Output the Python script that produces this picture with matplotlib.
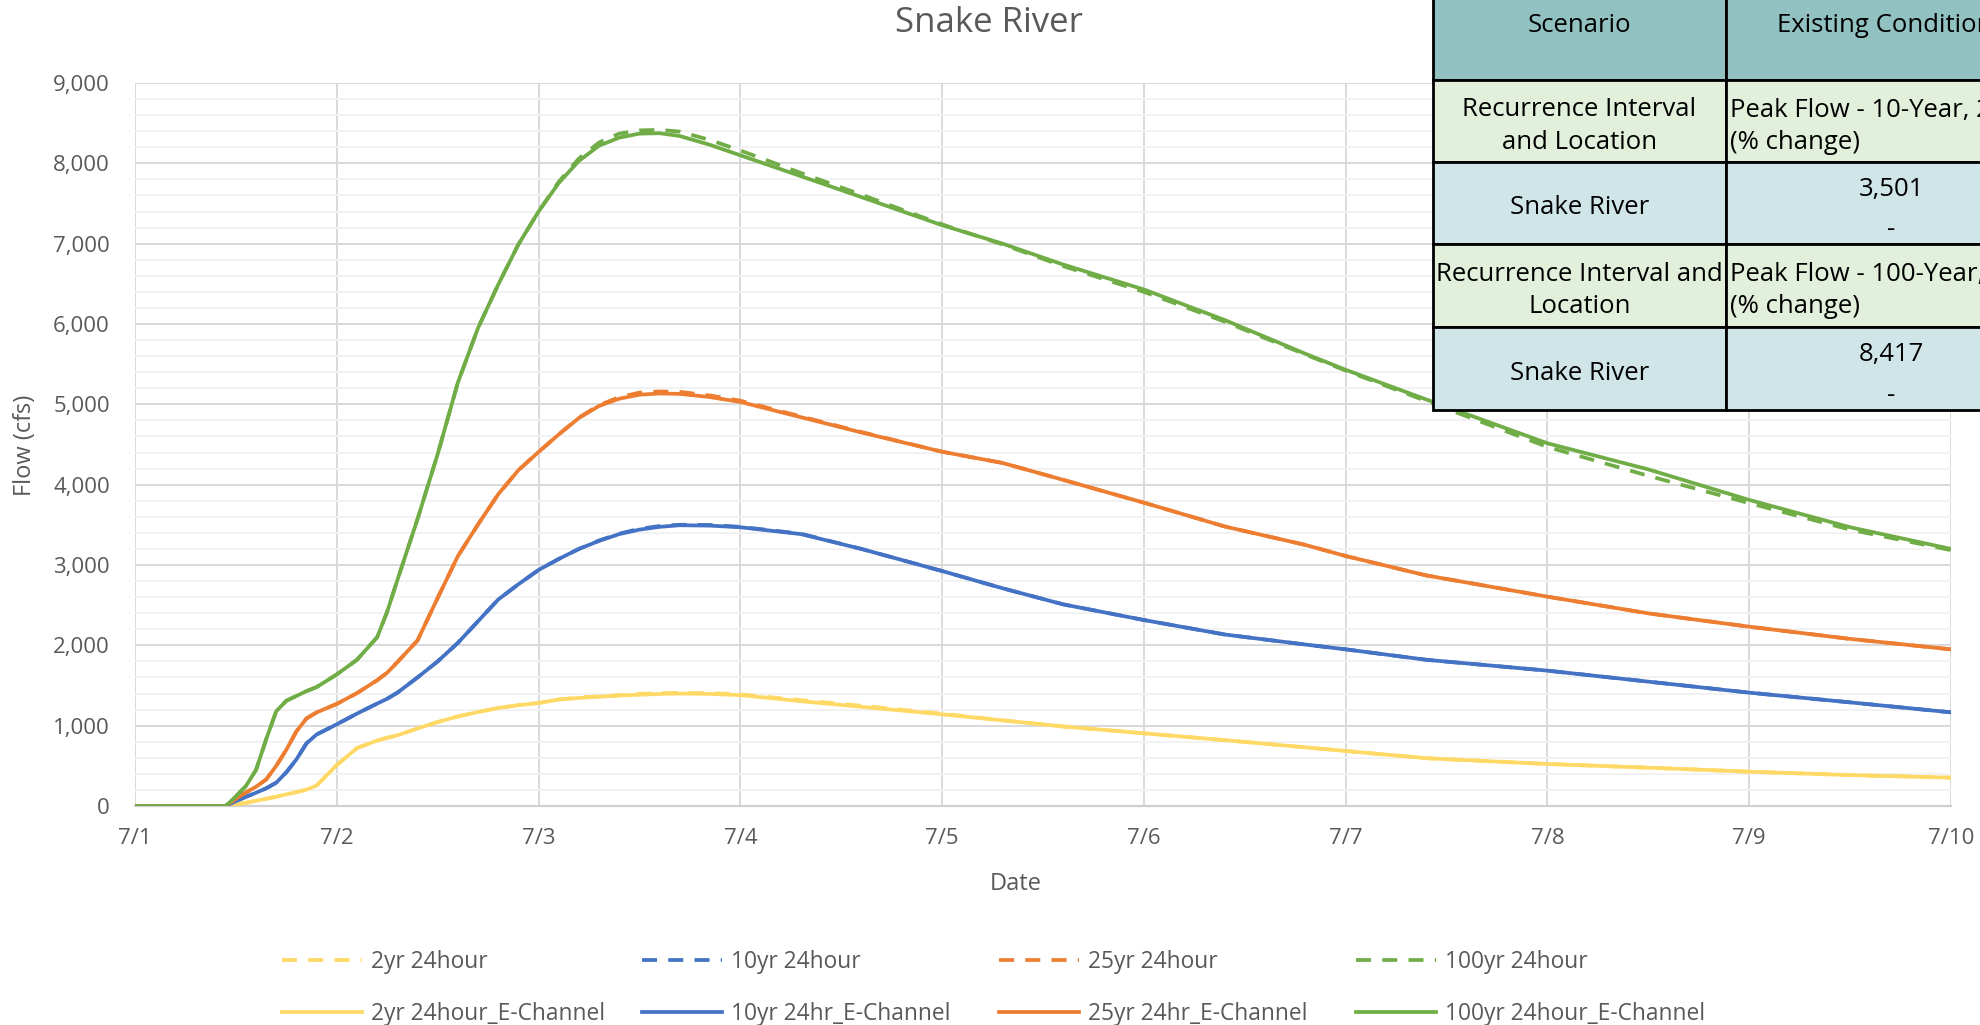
import matplotlib
matplotlib.use("Agg")
import matplotlib.pyplot as plt
from matplotlib.patches import Rectangle
from matplotlib.ticker import FuncFormatter, MultipleLocator

plt.rcParams['font.family'] = ['Open Sans', 'DejaVu Sans']

# ---- data (days after 7/1, flow in cfs) ----
days = [0, 0.45, 0.5, 0.55, 0.6, 0.65, 0.7, 0.75, 0.8, 0.85,
        0.9, 1.0, 1.1, 1.2, 1.25, 1.3, 1.4, 1.5, 1.6, 1.7,
        1.8, 1.9, 2.0, 2.1, 2.2, 2.3, 2.4, 2.5, 2.6, 2.7,
        2.85, 3.0, 3.3, 3.6, 4.0, 4.3, 4.6, 5.0, 5.4, 5.8,
        6.0, 6.4, 7.0, 7.5, 8.0, 8.5, 9.0]

yr2_24hour = [0, 0, 20, 40, 65, 90, 115, 145, 172, 205,
              255, 510, 720, 815, 850, 880, 965, 1045, 1115, 1170,
              1220, 1255, 1282, 1325, 1350, 1365, 1380, 1395, 1405, 1410,
              1405, 1390, 1318, 1248, 1150, 1066, 990, 905, 820, 730,
              685, 595, 523, 477, 427, 385, 353]
yr2_echannel = [0, 0, 20, 40, 65, 90, 115, 145, 172, 205,
                255, 510, 720, 815, 850, 880, 965, 1045, 1115, 1170,
                1220, 1255, 1282, 1325, 1345, 1360, 1375, 1385, 1395, 1400,
                1395, 1380, 1305, 1235, 1141, 1066, 990, 905, 820, 730,
                685, 595, 523, 477, 427, 385, 353]

yr10_24hour = [0, 0, 60, 115, 165, 220, 290, 420, 580, 780,
               890, 1017, 1150, 1275, 1335, 1410, 1600, 1800, 2030, 2300,
               2570, 2760, 2938, 3075, 3200, 3305, 3390, 3450, 3485, 3501,
               3498, 3475, 3390, 3200, 2925, 2710, 2510, 2315, 2135, 2010,
               1950, 1820, 1685, 1548, 1411, 1290, 1166]
yr10_echannel = [0, 0, 60, 115, 165, 220, 290, 420, 580, 780,
                 890, 1017, 1150, 1275, 1335, 1410, 1600, 1800, 2030, 2300,
                 2570, 2760, 2938, 3075, 3200, 3300, 3385, 3440, 3475, 3495,
                 3490, 3470, 3385, 3200, 2925, 2710, 2510, 2315, 2135, 2010,
                 1950, 1820, 1685, 1548, 1411, 1290, 1166]

yr25_24hour = [0, 0, 90, 170, 240, 330, 500, 700, 930, 1090,
               1165, 1271, 1405, 1565, 1660, 1790, 2060, 2590, 3110, 3505,
               3880, 4180, 4407, 4625, 4835, 4990, 5090, 5145, 5160, 5155,
               5110, 5045, 4850, 4655, 4410, 4270, 4060, 3776, 3480, 3250,
               3112, 2870, 2606, 2398, 2232, 2080, 1950]
yr25_echannel = [0, 0, 90, 170, 240, 330, 500, 700, 930, 1090,
                 1165, 1271, 1405, 1565, 1660, 1790, 2060, 2590, 3110, 3505,
                 3880, 4180, 4407, 4625, 4830, 4980, 5070, 5120, 5135, 5130,
                 5090, 5030, 4840, 4650, 4410, 4270, 4060, 3776, 3480, 3250,
                 3112, 2870, 2606, 2398, 2232, 2080, 1950]

yr100_24hour = [0, 0, 120, 250, 450, 830, 1180, 1310, 1370, 1430,
                1480, 1638, 1820, 2100, 2420, 2810, 3570, 4380, 5270, 5950,
                6490, 6990, 7400, 7770, 8060, 8260, 8370, 8410, 8417, 8395,
                8290, 8160, 7880, 7610, 7240, 6990, 6720, 6400, 6030, 5620,
                5420, 5040, 4470, 4110, 3770, 3440, 3185]
yr100_echannel = [0, 0, 120, 250, 450, 830, 1180, 1310, 1370, 1430,
                  1480, 1638, 1820, 2100, 2420, 2810, 3570, 4380, 5270, 5950,
                  6490, 6990, 7400, 7755, 8030, 8220, 8320, 8370, 8375, 8340,
                  8230, 8100, 7840, 7580, 7230, 7000, 6740, 6430, 6050, 5630,
                  5430, 5060, 4515, 4190, 3810, 3470, 3200]

day_labels = ['7/1', '7/2', '7/3', '7/4', '7/5', '7/6', '7/7', '7/8', '7/9', '7/10']

dashed_names = ['2yr 24hour', '10yr 24hour', '25yr 24hour', '100yr 24hour']
solid_names = ['2yr 24hour_E-Channel', '10yr 24hr_E-Channel',
               '25yr 24hr_E-Channel', '100yr 24hour_E-Channel']
colors = ['#FFD966', '#4472C4', '#ED7D31', '#70AD47']

# summary table on top of the chart
table_col1 = ['Scenario', 'Recurrence Interval\nand Location', 'Snake River',
              'Recurrence Interval and\nLocation', 'Snake River']
table_col2 = ['Existing Conditions', 'Peak Flow - 10-Year, 24-Hour (cfs)\n(% change)',
              ('3,501', '-'), 'Peak Flow - 100-Year, 24-Hour (cfs)\n(% change)',
              ('8,417', '-')]
table_fills = ['#92C1C1', '#E2EFDA', '#CFE5E8', '#E2EFDA', '#CFE5E8']

W, H = 1980, 1025
grey = '#595959'

fig = plt.figure(figsize=(W / 100, H / 100), dpi=100)
ax = fig.add_axes([135 / W, 1 - 806 / H, (1951 - 135) / W, (806 - 83) / H])

dashed_sets = [yr2_24hour, yr10_24hour, yr25_24hour, yr100_24hour]
solid_sets = [yr2_echannel, yr10_echannel, yr25_echannel, yr100_echannel]

dash_h, solid_h = [], []
for vals, name, c in zip(dashed_sets, dashed_names, colors):
    h, = ax.plot(days, vals, color=c, lw=2.7, dashes=(4, 3), label=name, zorder=3)
    dash_h.append(h)
for vals, name, c in zip(solid_sets, solid_names, colors):
    h, = ax.plot(days, vals, color=c, lw=2.7, label=name, zorder=4,
                 solid_joinstyle='round')
    solid_h.append(h)

ax.set_xlim(0, 9)
ax.set_ylim(0, 9000)
ax.set_xticks(range(10))
ax.set_xticklabels(day_labels)
ax.yaxis.set_major_locator(MultipleLocator(1000))
ax.yaxis.set_minor_locator(MultipleLocator(200))
ax.yaxis.set_major_formatter(FuncFormatter(lambda v, p: f'{int(v):,}'))
ax.grid(True, which='major', color='#D9D9D9', lw=1.4)
ax.grid(True, which='minor', axis='y', color='#F2F2F2', lw=1.4)
ax.set_axisbelow(True)
for s in ['top', 'right', 'left']:
    ax.spines[s].set_visible(False)
ax.spines['bottom'].set_color('#D0D0D0')
ax.spines['bottom'].set_linewidth(1.6)
ax.tick_params(axis='both', which='both', length=0, labelsize=16, labelcolor=grey)
ax.tick_params(axis='y', pad=18)
ax.tick_params(axis='x', pad=16)

fig.text(989 / W, 1 - 23 / H, 'Snake River', ha='center', va='center',
         fontsize=25, color=grey)
fig.text(1016 / W, 1 - 884 / H, 'Date', ha='center', va='center',
         fontsize=17, color=grey)
fig.text(25 / W, 1 - 445 / H, 'Flow (cfs)', ha='center', va='center',
         rotation=90, fontsize=17, color=grey)

# legend: one small legend per column, dashed on top, solid below
legend_cols = [264, 624, 981, 1338]
for i, lx in enumerate(legend_cols):
    lg = fig.legend([dash_h[i], solid_h[i]], [dashed_names[i], solid_names[i]],
                    loc='center left', bbox_to_anchor=(lx / W, 1 - 988 / H),
                    frameon=False, fontsize=16.4, handlelength=3.5,
                    handletextpad=0.4, labelspacing=1.27, borderpad=0.3,
                    labelcolor=grey)

# table overlay
x0, x1, x2 = 1433, 1726, 2056
row_edges = [-40, 80, 162, 244, 327, 410]
for i, fill in enumerate(table_fills):
    top, bot = row_edges[i], row_edges[i + 1]
    for a, b in [(x0, x1), (x1, x2)]:
        fig.add_artist(Rectangle((a / W, 1 - bot / H), (b - a) / W, (bot - top) / H,
                                 transform=fig.transFigure, facecolor=fill,
                                 edgecolor='black', lw=2.0, zorder=5))

clip = Rectangle((0, 0), 1, 1, transform=fig.transFigure, visible=False)
fig.add_artist(clip)

tfs = 18.5
dy = 5  # small downward nudge of the cell text
for i, (t1, t2) in enumerate(zip(table_col1, table_col2)):
    top, bot = max(row_edges[i], 0), row_edges[i + 1]
    mid = (top + bot) / 2 + dy
    if i == 0:
        fig.text((x0 + x1) / 2 / W, 1 - (20 + dy) / H, t1, ha='center', va='center',
                 fontsize=tfs, zorder=6)
        t = fig.text((x1 + x2) / 2 / W, 1 - (20 + dy) / H, t2, ha='center',
                     va='center', fontsize=tfs, zorder=6)
        t.set_clip_path(clip)
        continue
    fig.text((x0 + x1) / 2 / W, 1 - mid / H, t1, ha='center', va='center',
             fontsize=tfs, zorder=6, linespacing=1.4)
    if isinstance(t2, tuple):
        fig.text((x1 + x2) / 2 / W, 1 - (top + 23 + dy) / H, t2[0], ha='center',
                 va='center', fontsize=tfs, zorder=6)
        fig.text((x1 + x2) / 2 / W, 1 - (bot - 17 + dy - 2) / H, t2[1], ha='center',
                 va='center', fontsize=tfs, zorder=6)
    else:
        t = fig.text((x1 + 4) / W, 1 - mid / H, t2, ha='left', va='center',
                     fontsize=tfs, zorder=6, linespacing=1.4)
        t.set_clip_path(clip)

fig.savefig('out.png', dpi=100)
